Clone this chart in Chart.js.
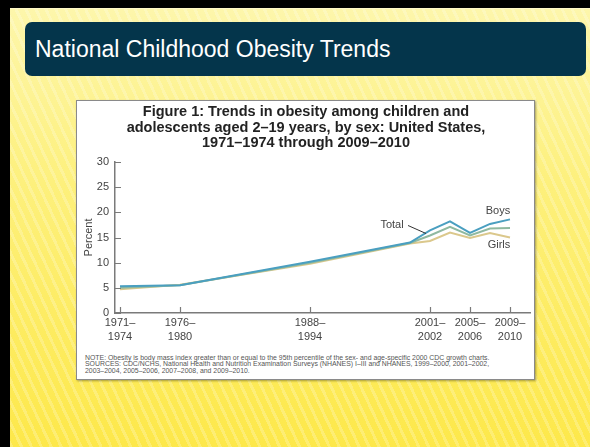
<!DOCTYPE html>
<html>
<head>
<meta charset="utf-8">
<script src="https://cdn.jsdelivr.net/npm/chart.js@4.4.1/dist/chart.umd.min.js"></script>
<style>
  html, body { margin: 0; padding: 0; }
  body {
    width: 590px; height: 447px; position: relative; overflow: hidden;
    background: #000;
    font-family: "Liberation Sans", Arial, sans-serif;
  }
  #slide {
    position: absolute; left: 10px; top: 8px; right: 0; bottom: 0;
    background:
      repeating-linear-gradient(65deg, rgba(255,255,255,0.22) 0 3px, rgba(255,255,255,0) 3px 9px),
      linear-gradient(#fdf6ab, #fdf07c 40%, #fde84a);
    border-top: 1px solid #fff8c8;
  }
  #header {
    position: absolute; left: 25px; top: 22px; width: 561px; height: 54px;
    background: #04354b; border-radius: 7px;
    color: #fff; font-size: 23px; line-height: 54px; padding-left: 10px;
    box-sizing: border-box; white-space: nowrap;
  }
  #figure {
    position: absolute; left: 76px; top: 100px; width: 459px; height: 280px;
    background: #fff; border: 1.5px solid #8a8a8a; box-sizing: border-box;
    box-shadow: 1px 1px 2px rgba(0,0,0,0.35);
  }
  #chart { position: absolute; left: 78px; top: 102px; }
  #note {
    position: absolute; left: 85px; top: 355px;
    font-size: 6.9px; line-height: 6.4px; color: #555; white-space: nowrap;
  }
</style>
</head>
<body>
<div id="slide"></div>
<div id="header">National Childhood Obesity Trends</div>
<div id="figure"></div>
<canvas id="chart" width="455" height="250"></canvas>
<div id="note">
  NOTE: Obesity is body mass index greater than or equal to the 95th percentile of the sex- and age-specific 2000 CDC growth charts.<br>
  SOURCES: CDC/NCHS, National Health and Nutrition Examination Surveys (NHANES) I–III and NHANES, 1999–2000, 2001–2002,<br>
  2003–2004, 2005–2006, 2007–2008, and 2009–2010.
</div>
<script>
// 調査期間と、図の時間軸上でのおおよその位置（年）
const periods = ['1971–1974', '1976–1980', '1988–1994', '1999–2000', '2001–2002', '2003–2004', '2005–2006', '2007–2008', '2009–2010'];
const periodX = [1970, 1976, 1989, 1999, 2001, 2003, 2005, 2007, 2009];

// 肥満の割合 (%)
const boys  = [5.3, 5.5, 10.2, 14.0, 16.4, 18.2, 15.9, 17.7, 18.6];
const total = [5.0, 5.5, 10.0, 13.9, 15.4, 17.1, 15.4, 16.8, 16.9];
const girls = [4.7, 5.6, 9.8, 13.8, 14.3, 16.0, 14.9, 15.9, 15.0];

// 目盛り
const tickPeriods = ['1971–1974', '1976–1980', '1988–1994', '2001–2002', '2005–2006', '2009–2010'];
const yTicks = [0, 5, 10, 15, 20, 25, 30];

const titleLines = [
    'Figure 1: Trends in obesity among children and',
    'adolescents aged 2–19 years, by sex: United States,',
    '1971–1974 through 2009–2010'
];

const toPoints = arr => arr.map((v, i) => ({ x: periodX[i], y: v }));
const tickX = tickPeriods.map(p => periodX[periods.indexOf(p)]);

const textColor = '#444';
const axisColor = '#7a7a7a';

// 内向きの目盛り線と系列ラベル
const annotate = {
    id: 'annotate',
    afterDatasetsDraw(chart) {
        const { ctx, chartArea, scales: { x, y } } = chart;
        ctx.save();
        ctx.strokeStyle = axisColor;
        ctx.lineWidth = 1.2;
        ctx.beginPath();
        tickX.forEach(v => {
            const px = Math.round(x.getPixelForValue(v)) + 0.5;
            ctx.moveTo(px, chartArea.bottom);
            ctx.lineTo(px, chartArea.bottom - 6);
        });
        yTicks.forEach(v => {
            const py = Math.round(y.getPixelForValue(v)) + 0.5;
            ctx.moveTo(chartArea.left, py);
            ctx.lineTo(chartArea.left + 6, py);
        });
        ctx.stroke();

        const last = periodX.length - 1;
        const i01 = periods.indexOf('2001–2002');
        ctx.fillStyle = textColor;
        ctx.font = '11px "Liberation Sans", Arial, sans-serif';
        ctx.textAlign = 'center';
        ctx.textBaseline = 'middle';
        ctx.fillText('Boys', x.getPixelForValue(periodX[last]) - 12, y.getPixelForValue(boys[last]) - 8);
        ctx.fillText('Girls', x.getPixelForValue(periodX[last]) - 11, y.getPixelForValue(girls[last]) + 7);

        const tx = x.getPixelForValue(periodX[i01]);
        const ty = y.getPixelForValue(total[i01]);
        ctx.fillText('Total', tx - 38, ty - 11);
        ctx.strokeStyle = '#333';
        ctx.lineWidth = 1;
        ctx.beginPath();
        ctx.moveTo(tx - 22, ty - 10);
        ctx.lineTo(tx - 4, ty - 2);
        ctx.stroke();
        ctx.restore();
    }
};

new Chart(document.getElementById('chart').getContext('2d'), {
    type: 'line',
    data: {
        datasets: [
            { label: 'Boys', data: toPoints(boys), borderColor: '#4a9fc0' },
            { label: 'Total', data: toPoints(total), borderColor: '#8fb9a0' },
            { label: 'Girls', data: toPoints(girls), borderColor: '#dbc88c' }
        ]
    },
    options: {
        responsive: false,
        animation: false,
        devicePixelRatio: 1,
        layout: { padding: { left: 4, right: 3, top: 0, bottom: 0 } },
        elements: {
            line: { borderWidth: 2, tension: 0 },
            point: { radius: 0 }
        },
        scales: {
            x: {
                type: 'linear',
                min: 1969.5,
                max: 2011,
                grid: { display: false, drawTicks: false },
                border: { color: axisColor, width: 1.5 },
                afterBuildTicks: scale => { scale.ticks = tickX.map(v => ({ value: v })); },
                afterFit: scale => { scale.height = 39; },
                ticks: {
                    color: textColor,
                    padding: 3,
                    maxRotation: 0,
                    autoSkip: false,
                    font: { size: 11, lineHeight: 1.25 },
                    callback: value => {
                        const p = periods[periodX.indexOf(value)];
                        const parts = p.split('–');
                        return [parts[0] + '–', parts[1]];
                    }
                }
            },
            y: {
                min: 0,
                max: 30,
                grid: { display: false, drawTicks: false },
                border: { color: axisColor, width: 1.5 },
                afterBuildTicks: scale => { scale.ticks = yTicks.map(v => ({ value: v })); },
                afterFit: scale => { scale.width = 33; },
                ticks: { color: textColor, padding: 6, font: { size: 11 } },
                title: {
                    display: true,
                    text: 'Percent',
                    color: textColor,
                    font: { size: 11 },
                    padding: 0
                }
            }
        },
        plugins: {
            legend: { display: false },
            tooltip: { enabled: false },
            title: {
                display: true,
                text: titleLines,
                color: '#222',
                font: { size: 14.5, weight: 'bold', lineHeight: 15.5 / 14.5 },
                padding: { top: 2.25, bottom: 11.25 }
            }
        }
    },
    plugins: [annotate]
});
</script>
</body>
</html>
